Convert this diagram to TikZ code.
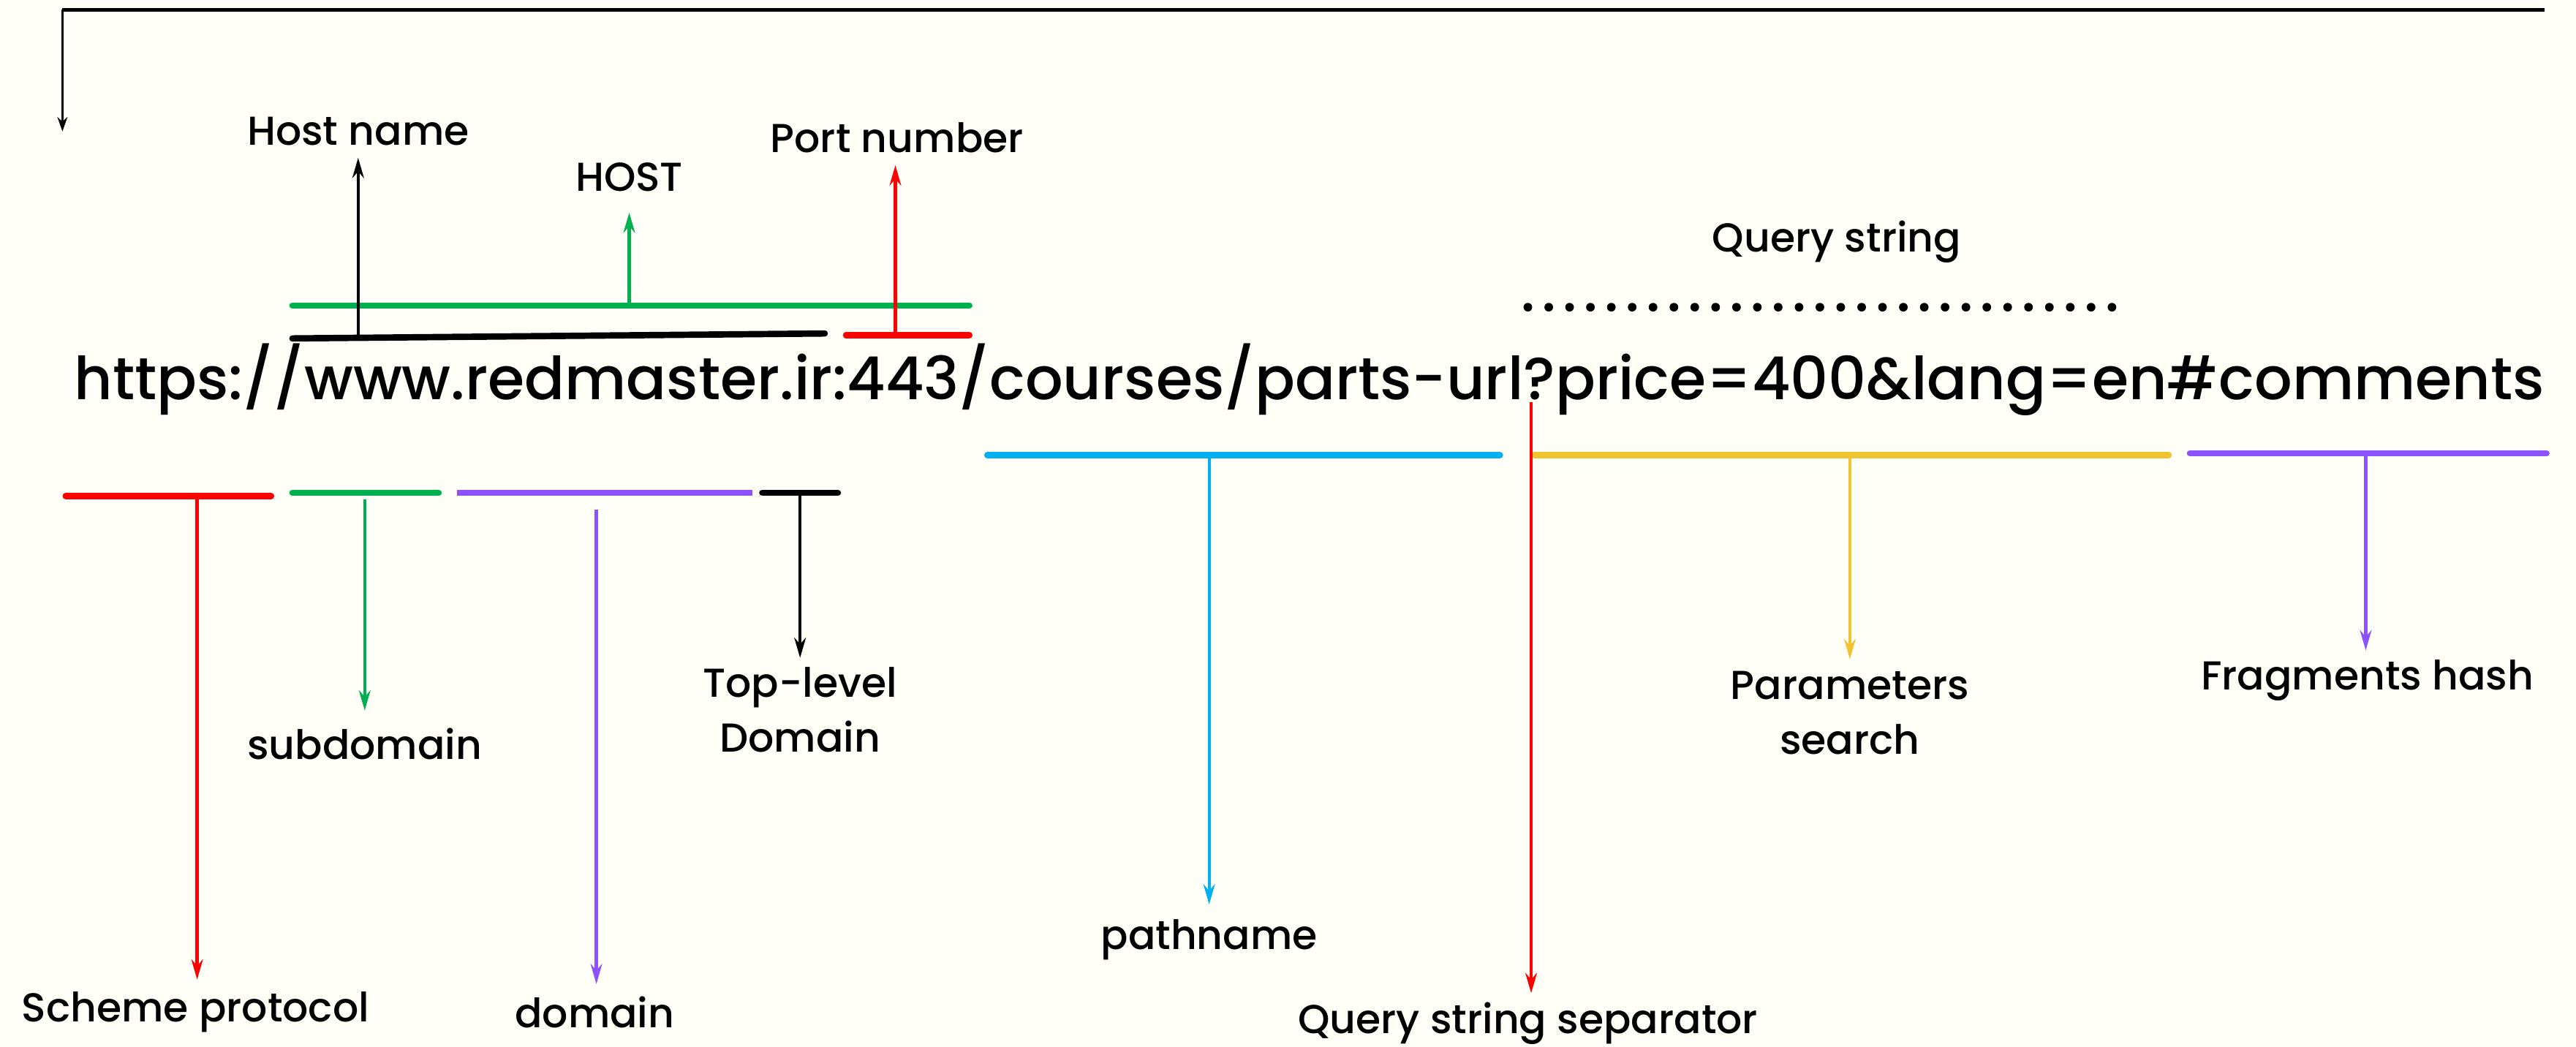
\documentclass[tikz,border=0pt]{standalone}
\usepackage{fontspec}
\setmainfont{Poppins}[UprightFont=* Medium]
\usetikzlibrary{arrows.meta}
\definecolor{paper}{HTML}{FFFFF7}
\definecolor{hostgreen}{HTML}{00B050}
\definecolor{portred}{HTML}{FF0000}
\definecolor{dompurple}{HTML}{8C52FF}
\definecolor{pathblue}{HTML}{00B0F0}
\definecolor{qyellow}{HTML}{F0C330}
\tikzstyle{lbl} = [font=\fontsize{14}{19}\selectfont, align=center, inner sep=1pt]
\tikzstyle{addr} = [font=\fontsize{20.55}{24}\selectfont, inner sep=0pt]
\tikzstyle{bar} = [line width=2.2pt, line cap=round]
\tikzstyle{ptr} = [line width=1.1pt, -{Stealth[length=7pt,width=4pt]}]

\begin{document}
\begin{tikzpicture}[x=0.02cm, y=-0.02cm]
    \fill[paper] (0,0) rectangle (1568,637);
    \useasboundingbox (0,0) rectangle (1568,637);

    % the address itself
    \node[addr] (url) at (797,231) {https://www.redmaster.ir:443/courses/parts-url?price=400\&lang=en\#comments};

    % labels
    \node[lbl] (hostname) at (218,80) {Host name};
    \node[lbl] (host) at (383,108) {HOST};
    \node[lbl] (port) at (546,84) {Port number};
    \node[lbl] (query) at (1118,147) {Query string};
    \node[lbl] (scheme) at (119,616) {Scheme protocol};
    \node[lbl] (subdom) at (222,453) {subdomain};
    \node[lbl] (domain) at (362,616) {domain};
    \node[lbl] (tld) at (487,432) {Top-level\\Domain};
    \node[lbl] (pathname) at (736,572) {pathname};
    \node[lbl] (sep) at (930,623) {Query string separator};
    \node[lbl] (params) at (1126,434) {Parameters\\search};
    \node[lbl] (frag) at (1441,414) {Fragments hash};

    % frame arrow along the top
    \coordinate (f1) at (1549,6);
    \coordinate (f2) at (38,6);
    \coordinate (f3) at (38,80);
    \draw[line width=1.3pt] (f1) -- (f2);
    \draw[line width=0.6pt, -{Stealth[length=5pt,width=3.5pt]}] (f2) -- (f3);

    % bars above the address
    \draw[bar, hostgreen] (178,186) -- (590,186);
    \draw[bar, black] (178,206) -- (502,203);
    \draw[bar, portred] (515,204) -- (590,204);
    \draw[line width=3pt, line cap=round, dash pattern=on 0pt off 0.254cm] (930,187) -- (1287,187);

    \coordinate (hn) at (218,207);
    \coordinate (hs) at (383,186);
    \coordinate (pn) at (545,204);
    \draw[ptr, black] (hn) -- ([yshift=-3pt]hn |- hostname.south);
    \draw[ptr, hostgreen] (hs) -- ([yshift=-6pt]hs |- host.south);
    \draw[ptr, portred] (pn) -- ([yshift=-3pt]pn |- port.south);

    % bars below the address
    \draw[bar, portred] (40,302) -- (165,302);
    \draw[bar, hostgreen] (178,300) -- (267,300);
    \draw[bar, dompurple, line cap=butt] (278,300) -- (458,300);
    \draw[bar, black] (464,300) -- (510,300);
    \draw[bar, pathblue] (601,277) -- (913,277);
    \draw[bar, qyellow] (934,277) -- (1320,277);
    \draw[bar, dompurple] (1333,276) -- (1550,276);

    \coordinate (sp) at (120,302);
    \coordinate (sd) at (222,304);
    \coordinate (dm) at (363,310);
    \coordinate (tl) at (487,300);
    \coordinate (pa) at (736,277);
    \coordinate (qs) at (932,245);
    \coordinate (pr) at (1126,277);
    \coordinate (fh) at (1440,276);
    \draw[ptr, portred] (sp) -- ([yshift=3pt]sp |- scheme.north);
    \draw[ptr, hostgreen] (sd) -- ([yshift=5pt]sd |- subdom.north);
    \draw[ptr, dompurple] (dm) -- ([yshift=3pt]dm |- domain.north);
    \draw[ptr, black] (tl) -- ([yshift=2pt]tl |- tld.north);
    \draw[ptr, pathblue] (pa) -- ([yshift=4pt]pa |- pathname.north);
    \draw[ptr, portred] (qs) -- ([yshift=2pt]qs |- sep.north);
    \draw[ptr, qyellow] (pr) -- ([yshift=3pt]pr |- params.north);
    \draw[ptr, dompurple] (fh) -- ([yshift=2pt]fh |- frag.north);
\end{tikzpicture}
\end{document}
